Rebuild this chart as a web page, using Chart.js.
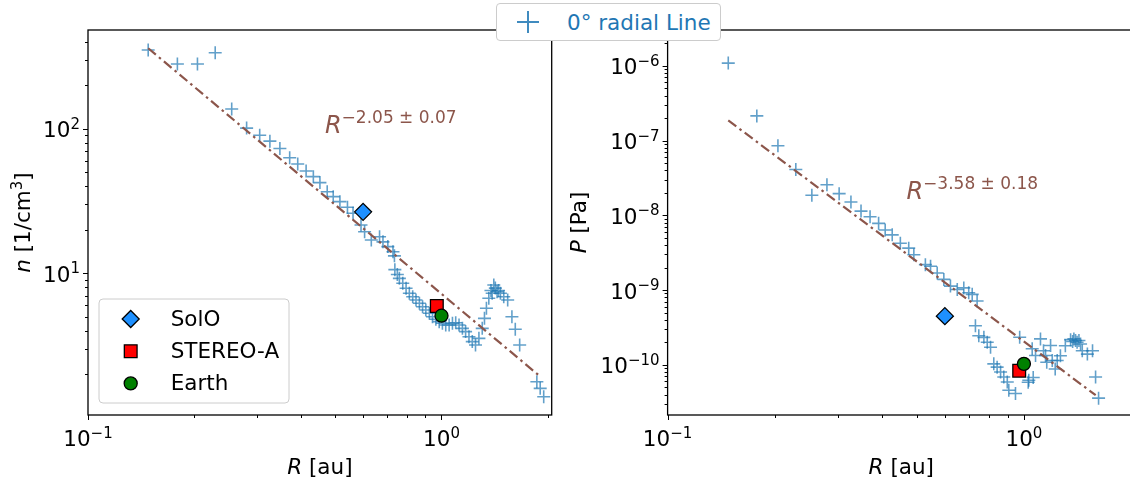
<!DOCTYPE html>
<html>
<head>
<meta charset="utf-8">
<script src="https://cdn.jsdelivr.net/npm/chart.js@4.4.1/dist/chart.umd.min.js"></script>
<style>
  body { margin: 0; width: 1130px; height: 481px; overflow: hidden; background: #fff; position: relative; font-family: "DejaVu Sans", sans-serif; }
  canvas { position: absolute; top: 0; }
  #cn { left: 0; }
  #cp { left: 562px; }
  #topLegend {
    position: absolute; left: 496px; top: 3px; width: 225px; height: 38px;
    border: 1px solid #ccc; border-radius: 4px; background: #fff;
    display: flex; align-items: center; box-sizing: border-box; z-index: 5;
  }
  #topLegend svg { margin-left: 20px; }
  #topLegend span { margin-left: 28px; font-size: 21.5px; color: #1f77b4; }
</style>
</head>
<body>
<canvas id="cn" width="562" height="481"></canvas>
<canvas id="cp" width="590" height="481"></canvas>
<div id="topLegend">
  <svg width="22" height="22"><path d="M0 11H22M11 0V22" stroke="rgba(31,119,180,0.85)" stroke-width="2"/></svg>
  <span>0° radial Line</span>
</div>
<script>
// tick labels (powers of ten)
const xTickExps = [-1, 0];
const nTickExps = [1, 2];
const pTickExps = [-10, -9, -8, -7, -6];

// density along the 0° radial line
const nR = [0.148, 0.179, 0.204, 0.229, 0.255, 0.281, 0.306, 0.327, 0.349, 0.372, 0.392, 0.414, 0.434, 0.453,
  0.475, 0.494, 0.516, 0.542, 0.562, 0.592, 0.606, 0.633, 0.668, 0.683, 0.705, 0.729, 0.736, 0.738, 0.750,
  0.760, 0.777, 0.794, 0.811, 0.829, 0.847, 0.866, 0.884, 0.903, 0.924, 0.943, 0.964, 0.985, 1.006, 1.028,
  1.051, 1.074, 1.097, 1.121, 1.146, 1.170, 1.196, 1.222, 1.248, 1.276, 1.304, 1.323, 1.340, 1.361, 1.380,
  1.391, 1.406, 1.420, 1.436, 1.450, 1.468, 1.500, 1.539, 1.582, 1.617, 1.664, 1.861, 1.902, 1.946];
const nVal = [350, 280, 280, 335, 137, 101, 90, 82, 73, 63, 57, 51, 46.6, 42.4,
  36.6, 33.9, 31.3, 28.6, 26, 21.6, 19.4, 17.0, 17.9, 16.5, 15.3, 14.1, 13.2, 10.6, 9.8,
  9.23, 8.53, 7.88, 7.27, 6.89, 6.54, 6.20, 5.87, 5.58, 5.29, 5.01, 4.81, 4.63, 4.51, 4.39,
  4.39, 4.51, 4.55, 4.39, 4.16, 3.95, 3.64, 3.37, 3.19, 3.55, 4.16, 4.88, 5.73, 6.72, 7.6,
  7.27, 8.30, 7.9, 7.46, 7.6, 7.27, 6.89, 6.54, 5.01, 4.10, 3.19, 1.78, 1.60, 1.40];

// pressure along the 0° radial line
const pR = [0.148, 0.178, 0.204, 0.229, 0.254, 0.280, 0.303, 0.327, 0.349, 0.370, 0.391, 0.408, 0.427, 0.450,
  0.475, 0.491, 0.529, 0.547, 0.571, 0.596, 0.622, 0.650, 0.678, 0.700, 0.716, 0.739, 0.731, 0.747, 0.772,
  0.789, 0.806, 0.823, 0.841, 0.860, 0.878, 0.898, 0.907, 0.947, 0.973, 1.028, 1.032, 1.055, 1.062, 1.078,
  1.113, 1.135, 1.150, 1.159, 1.188, 1.201, 1.224, 1.240, 1.266, 1.307, 1.352, 1.370, 1.381, 1.396, 1.410,
  1.427, 1.442, 1.458, 1.507, 1.558, 1.589, 1.620];
const pVal = [1.09e-6, 2.14e-7, 8.55e-8, 4.11e-8, 1.86e-8, 2.57e-8, 1.95e-8, 1.51e-8, 1.14e-8, 9.57e-9, 7.81e-9, 6.38e-9, 5.48e-9, 4.24e-9,
  3.64e-9, 2.97e-9, 2.19e-9, 2.08e-9, 1.69e-9, 1.39e-9, 1.13e-9, 1.02e-9, 1.07e-9, 9.2e-10, 8.77e-10, 7.15e-10, 3.33e-10, 2.45e-10, 2.33e-10,
  2.0e-10, 1.72e-10, 1.03e-10, 9.3e-11, 8.0e-11, 6.87e-11, 5.9e-11, 4.57e-11, 4.14e-11, 2.34e-10, 5.85e-11, 6.2e-11, 1.64e-10, 6.76e-11, 1.33e-10,
  2.22e-10, 1.54e-10, 1.33e-10, 1.08e-10, 1.81e-10, 1.14e-10, 8.77e-11, 1.14e-10, 1.32e-10, 1.80e-10, 2.17e-10, 2.05e-10, 2.22e-10, 2.11e-10, 2.0e-10,
  2.11e-10, 1.9e-10, 1.54e-10, 1.39e-10, 1.54e-10, 6.87e-11, 3.58e-11];

// power-law fits (end points)
const fitNR = [0.148, 1.88];
const fitN = [360, 1.98];
const fitPR = [0.148, 1.59];
const fitP = [1.86e-7, 3.92e-11];

// spacecraft / planet values
const obsNames = ['SolO', 'STEREO-A', 'Earth'];
const obsR = [0.60, 0.97, 1.0];
const obsN = [26.6, 5.94, 5.09];
const obsP = [4.48e-10, 8.33e-11, 1.03e-10];
const obsStyle = ['rectRot', 'rect', 'circle'];
const obsColor = ['#1e90ff', '#ff0000', '#008000'];
const obsSize = [8.5, 9, 6.5];

const FONT = '"DejaVu Sans"';
const toPts = (xs, ys) => xs.map((x, i) => ({ x: x, y: ys[i] }));

function drawRuns(ctx, parts, x, y, align) {
  let w = 0;
  parts.forEach(p => { ctx.font = p.f; p.w = ctx.measureText(p.t).width; w += p.w; });
  let cx = align === 'right' ? x - w : align === 'center' ? x - w / 2 : x;
  parts.forEach(p => { ctx.font = p.f; ctx.fillText(p.t, cx, y + (p.dy || 0)); cx += p.w; });
}

function powParts(e) {
  return [
    { t: '10', f: '21.5px ' + FONT },
    { t: e < 0 ? '\u2212' + (-e) : String(e), f: '15px ' + FONT, dy: -8.5 }
  ];
}

function logTicks(min, max) {
  const out = [];
  for (let e = Math.floor(Math.log10(min)); e <= Math.ceil(Math.log10(max)); e++) {
    for (let m = 1; m < 10; m++) {
      const v = m * Math.pow(10, e);
      if (v >= min * 0.9999 && v <= max * 1.0001) out.push({ v: v, major: m === 1 });
    }
  }
  return out;
}

function markerPath(ctx, style, x, y, r) {
  ctx.beginPath();
  if (style === 'circle') {
    ctx.arc(x, y, r, 0, Math.PI * 2);
  } else if (style === 'rect') {
    const s = Math.SQRT1_2 * r;
    ctx.rect(x - s, y - s, 2 * s, 2 * s);
  } else {
    ctx.moveTo(x - r, y); ctx.lineTo(x, y - r); ctx.lineTo(x + r, y); ctx.lineTo(x, y + r);
    ctx.closePath();
  }
}

function makeDeco(cfg) {
  return {
    id: 'deco',
    afterDraw(chart) {
      const ctx = chart.ctx, a = chart.chartArea;
      const xs = chart.scales.x, ys = chart.scales.y;
      ctx.save();
      ctx.strokeStyle = '#000';
      ctx.fillStyle = '#000';
      ctx.lineWidth = 1;
      logTicks(xs.min, xs.max).forEach(t => {
        const px = Math.round(xs.getPixelForValue(t.v)) + 0.5;
        ctx.beginPath(); ctx.moveTo(px, a.bottom); ctx.lineTo(px, a.bottom + (t.major ? 5 : 3)); ctx.stroke();
      });
      logTicks(ys.min, ys.max).forEach(t => {
        const py = Math.round(ys.getPixelForValue(t.v)) + 0.5;
        ctx.beginPath(); ctx.moveTo(a.left, py); ctx.lineTo(a.left - (t.major ? 5 : 3), py); ctx.stroke();
      });
      ctx.lineWidth = 1.3;
      ctx.strokeRect(a.left, a.top, a.right - a.left, a.bottom - a.top);

      ctx.textBaseline = 'alphabetic';
      ctx.textAlign = 'left';
      xTickExps.forEach(e => {
        drawRuns(ctx, powParts(e), xs.getPixelForValue(Math.pow(10, e)), a.bottom + 31, 'center');
      });
      cfg.yExps.forEach(e => {
        drawRuns(ctx, powParts(e), a.left - 8, ys.getPixelForValue(Math.pow(10, e)) + 8.5, 'right');
      });
      drawRuns(ctx, [
        { t: 'R', f: 'italic 21.5px ' + FONT },
        { t: ' [au]', f: '21.5px ' + FONT }
      ], (a.left + a.right) / 2, a.bottom + 59, 'center');

      ctx.save();
      ctx.translate(cfg.yLabelX, (a.top + a.bottom) / 2);
      ctx.rotate(-Math.PI / 2);
      drawRuns(ctx, cfg.yLabel, 0, 0, 'center');
      ctx.restore();

      // fit exponent annotation
      ctx.fillStyle = '#8c564b';
      drawRuns(ctx, [
        { t: 'R', f: 'italic 24px ' + FONT },
        { t: cfg.note.text, f: '17px ' + FONT, dy: -10 }
      ], xs.getPixelForValue(cfg.note.x), ys.getPixelForValue(cfg.note.y), 'left');

      if (cfg.legend) {
        const x0 = a.left + 11, y0 = a.bottom - 116, w = 190, h = 104, r = 4;
        ctx.beginPath();
        ctx.moveTo(x0 + r, y0); ctx.arcTo(x0 + w, y0, x0 + w, y0 + h, r);
        ctx.arcTo(x0 + w, y0 + h, x0, y0 + h, r); ctx.arcTo(x0, y0 + h, x0, y0, r);
        ctx.arcTo(x0, y0, x0 + w, y0, r); ctx.closePath();
        ctx.fillStyle = 'rgba(255,255,255,0.8)'; ctx.fill();
        ctx.strokeStyle = '#cccccc'; ctx.lineWidth = 1; ctx.stroke();
        obsNames.forEach((name, i) => {
          const cy = y0 + 20 + i * 32.2;
          markerPath(ctx, obsStyle[i], x0 + 31.7, cy, obsSize[i]);
          ctx.fillStyle = obsColor[i]; ctx.fill();
          ctx.strokeStyle = '#000'; ctx.lineWidth = 1.3; ctx.stroke();
          ctx.fillStyle = '#000';
          ctx.font = '21.5px ' + FONT;
          ctx.textBaseline = 'middle';
          ctx.fillText(name, x0 + 71.7, cy + 1);
        });
      }
      ctx.restore();
    }
  };
}

function makeChart(id, cfg) {
  return new Chart(document.getElementById(id), {
    type: 'scatter',
    data: {
      datasets: [
        {
          data: cfg.pts, pointStyle: 'cross', pointRadius: 6.5, pointBorderWidth: 1.6,
          borderColor: 'rgba(31,119,180,0.7)', backgroundColor: 'rgba(31,119,180,0.7)', order: 3
        },
        {
          data: cfg.fit, showLine: true, borderColor: '#8c564b', borderWidth: 2.2,
          borderDash: [10, 4, 2.5, 4], pointRadius: 0, order: 2
        },
        {
          data: cfg.obs, pointStyle: obsStyle, pointRadius: obsSize, backgroundColor: obsColor,
          borderColor: '#000', pointBorderWidth: 1.3, order: 1
        }
      ]
    },
    options: {
      responsive: false,
      animation: false,
      events: [],
      layout: { padding: cfg.pad },
      plugins: { legend: { display: false }, tooltip: { enabled: false } },
      scales: {
        x: {
          type: 'logarithmic', min: 0.1, max: 2.05,
          ticks: { display: false }, grid: { display: false, drawTicks: false }, border: { display: false }
        },
        y: {
          type: 'logarithmic', min: cfg.ymin, max: cfg.ymax,
          ticks: { display: false }, grid: { display: false, drawTicks: false }, border: { display: false }
        }
      }
    },
    plugins: [makeDeco(cfg.deco)]
  });
}

makeChart('cn', {
  pts: toPts(nR, nVal),
  fit: toPts(fitNR, fitN),
  obs: toPts(obsR, obsN),
  ymin: 1.047, ymax: 481.6,
  pad: { left: 88, right: 5, top: 30, bottom: 66 },
  deco: {
    yExps: nTickExps,
    yLabelX: 30,
    yLabel: [
      { t: 'n', f: 'italic 21.5px ' + FONT },
      { t: ' [1/cm', f: '21.5px ' + FONT },
      { t: '3', f: '15px ' + FONT, dy: -8.5 },
      { t: ']', f: '21.5px ' + FONT }
    ],
    note: { x: 0.468, y: 93, text: '\u22122.05 \u00b1 0.07' },
    legend: true
  }
});

makeChart('cp', {
  pts: toPts(pR, pVal),
  fit: toPts(fitPR, fitP),
  obs: toPts(obsR, obsP),
  ymin: 2.13e-11, ymax: 3.02e-6,
  pad: { left: 105.6, right: 17, top: 30, bottom: 66 },
  deco: {
    yExps: pTickExps,
    yLabelX: 24,
    yLabel: [
      { t: 'P', f: 'italic 21.5px ' + FONT },
      { t: ' [Pa]', f: '21.5px ' + FONT }
    ],
    note: { x: 0.468, y: 1.67e-8, text: '\u22123.58 \u00b1 0.18' },
    legend: false
  }
});
</script>
</body>
</html>
